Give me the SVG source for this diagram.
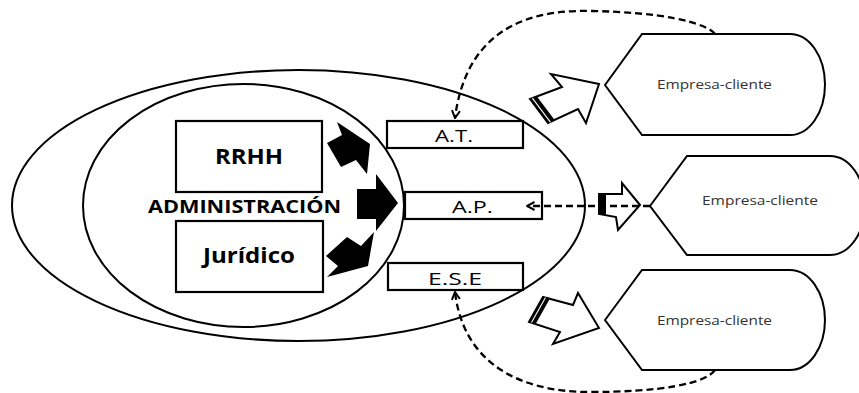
<svg xmlns="http://www.w3.org/2000/svg" width="859" height="393" viewBox="0 0 859 393">
<style>
.ln{fill:none;stroke:#000;stroke-width:2}
.box{fill:#fff;stroke:#000;stroke-width:2.2}
.shape{fill:#fff;stroke:#000;stroke-width:2}
.blk{fill:#000;stroke:none}
.hol{fill:#fff;stroke:#000;stroke-width:2;stroke-linejoin:miter}
.dash{fill:none;stroke:#000;stroke-width:2.3;stroke-dasharray:7 4}
.tb{font-family:"Open Sans","DejaVu Sans",sans-serif;font-weight:bold;fill:#000;text-anchor:middle}
.tr{font-family:"Open Sans","DejaVu Sans",sans-serif;fill:#000;text-anchor:middle}
.tc{font-family:"Open Sans","DejaVu Sans",sans-serif;fill:#333;text-anchor:middle;font-size:13px}
</style>
<defs>
<marker id="ah" viewBox="0 0 10 10" refX="9" refY="5" markerWidth="10" markerHeight="10" markerUnits="userSpaceOnUse" orient="auto">
<path d="M1.5,1 L9,5 L1.5,9" fill="none" stroke="#000" stroke-width="2"/>
</marker>
</defs>
<rect width="859" height="393" fill="#fff"/>
<g id="outer">
<ellipse class="ln" cx="298.5" cy="205.5" rx="286.5" ry="135.5"/>
</g>
<g id="administracion">
<ellipse class="ln" cx="243.5" cy="205.5" rx="160.5" ry="121.5"/>
<text class="tb" x="244.5" y="213" font-size="18.5" textLength="193" lengthAdjust="spacingAndGlyphs">ADMINISTRACIÓN</text>
</g>
<g id="rrhh">
<rect class="box" x="176" y="121" width="146" height="71"/>
<text class="tb" x="249" y="164" font-size="20.5" textLength="68" lengthAdjust="spacingAndGlyphs">RRHH</text>
</g>
<g id="juridico">
<rect class="box" x="176" y="221" width="147" height="71"/>
<text class="tb" x="249" y="263" font-size="20.5" textLength="92" lengthAdjust="spacingAndGlyphs">Jurídico</text>
</g>
<g id="at">
<rect class="box" x="387" y="121" width="136" height="27"/>
<text class="tr" x="454" y="142" font-size="17" textLength="38" lengthAdjust="spacingAndGlyphs">A.T.</text>
</g>
<g id="ap">
<rect class="box" x="405" y="192" width="137" height="27"/>
<text class="tr" x="472.5" y="213" font-size="17" textLength="41" lengthAdjust="spacingAndGlyphs">A.P.</text>
</g>
<g id="ese">
<rect class="box" x="388" y="263" width="135" height="27"/>
<text class="tr" x="455" y="285" font-size="17" textLength="54" lengthAdjust="spacingAndGlyphs">E.S.E</text>
</g>
<g id="cliente1">
<path class="shape" d="M605,85 L642,34 L790,34 A35,50.5 0 0 1 790,135 L642,135 Z"/>
<text class="tc" x="714.5" y="89" textLength="115" lengthAdjust="spacingAndGlyphs">Empresa-cliente</text>
</g>
<g id="cliente2">
<path class="shape" d="M650,206 L687,156 L830,156 A35,49.5 0 0 1 830,255 L687,255 Z"/>
<text class="tc" x="760" y="205" textLength="116" lengthAdjust="spacingAndGlyphs">Empresa-cliente</text>
</g>
<g id="cliente3">
<path class="shape" d="M605,320 L642,270 L790,270 A35,50 0 0 1 790,370 L642,370 Z"/>
<text class="tc" x="714.5" y="325" textLength="115" lengthAdjust="spacingAndGlyphs">Empresa-cliente</text>
</g>
<g id="connectors">
<polygon class="blk" points="337,122 370,144 367,174 356,160 341,167 327,143 342,135"/>
<polygon class="blk" points="357,189 376,189 376,174 398,203 376,231 376,219 357,219"/>
<polygon class="blk" points="326,256 347,237 361,246 374,232 368,266 327,277 338,266"/>
<polygon class="hol" points="599,84 551,74 562,87 530,99 548,123 578,109 586,123"/>
<polygon class="blk" points="530,99 537,96.4 555,120.4 548,123"/>
<line x1="532.4" y1="98.1" x2="550.4" y2="122.1" stroke="#fff" stroke-width="1.1"/>
<polygon class="hol" points="640,205 622,183 622,194 599,194 599,214 616,217 618,230"/>
<rect class="blk" x="599" y="194" width="7" height="20"/>
<polygon class="hol" points="599,328 578,293 573,305 543,297 529,322 560,332 553,344"/>
<polygon class="blk" points="543,297 549.8,298.8 535.8,323.8 529,322"/>
<line x1="545.5" y1="297.6" x2="531.5" y2="322.6" stroke="#fff" stroke-width="1.1"/>
<path class="dash" d="M715,34 C705,22 660,12 590,11 C515,9 465,40 455,118" marker-end="url(#ah)"/>
<path class="dash" d="M650,206 L527,206" marker-end="url(#ah)"/>
<path class="dash" d="M715,370 C705,384 660,392 590,392 C515,392 463,360 455,292" marker-end="url(#ah)"/>
</g>
</svg>
